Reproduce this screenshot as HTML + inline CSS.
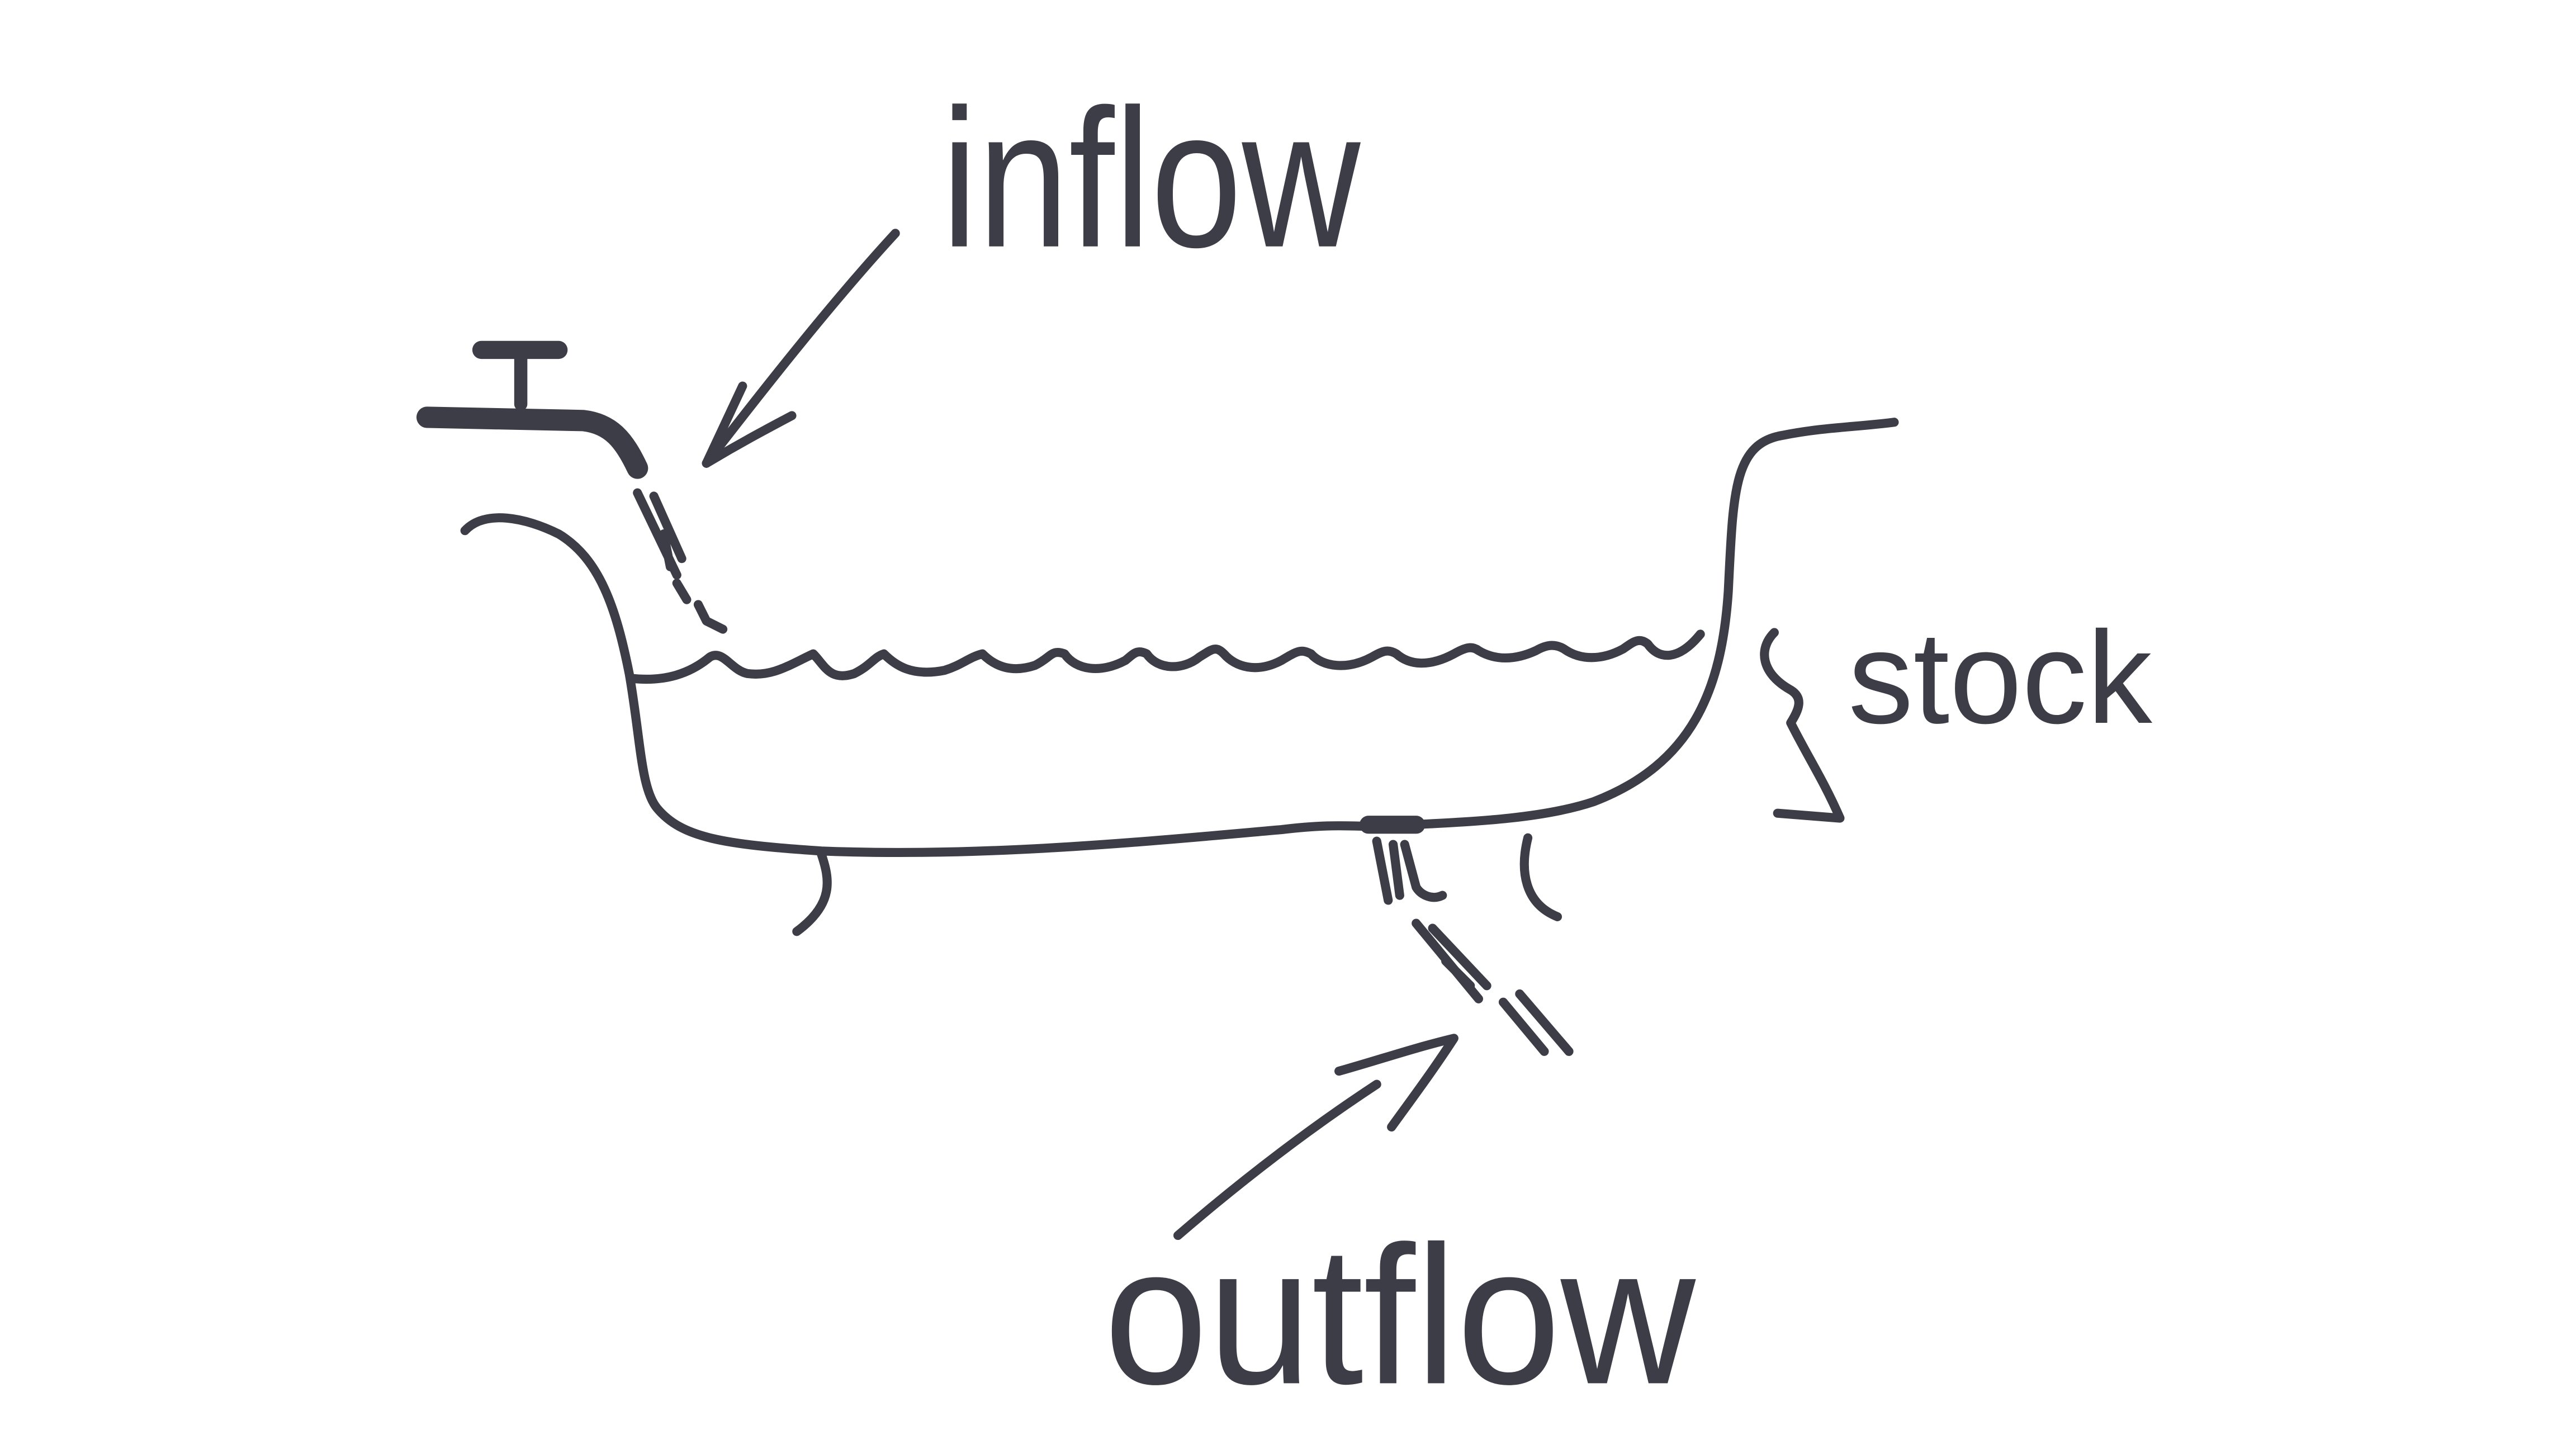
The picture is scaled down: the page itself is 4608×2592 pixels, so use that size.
<!DOCTYPE html>
<html><head><meta charset="utf-8"><style>
html,body{margin:0;padding:0;background:#fff;}
svg{display:block;}
</style></head><body>
<svg width="4608" height="2592" viewBox="0 0 1568 882" xmlns="http://www.w3.org/2000/svg">
<rect width="1568" height="882" fill="#fff"/>
<g fill="none" stroke="#3d3d48" stroke-width="5.5" stroke-linecap="round" stroke-linejoin="round">
<!-- tub -->
<path d="M283,323 C295,310 320,315 340,325 C365,340 375,370 383,410 C390,450 390,480 400,492 C415,510 440,514 500,518 C600,522 700,512 780,505 C820,500 830,505 860,502 C900,500 940,498 970,488 C1030,465 1048,420 1052,360 C1055,300 1055,270 1085,265 C1110,260 1130,260 1153,257"/>
<!-- water -->
<path d="M385,413 C405,415 420,410 432,400 C440,395 445,408 455,410 C470,412 480,405 495,398 C502,405 505,415 520,410 C530,405 532,400 538,398 C545,405 555,412 575,408 C585,405 590,400 598,398 C605,405 615,410 630,405 C640,400 640,395 648,398 C655,408 670,410 685,402 C690,398 692,395 698,398 C705,408 720,408 730,400 C738,395 740,393 745,398 C752,406 765,410 780,402 C790,396 792,395 798,398 C805,406 820,408 835,400 C842,396 845,395 850,398 C858,405 870,406 885,398 C892,394 896,393 900,396 C910,402 922,402 935,396 C942,392 947,392 952,395 C962,402 975,402 988,395 C995,390 998,388 1003,392 C1010,402 1022,402 1035,386"/>
<!-- faucet -->
<path d="M260,254 L355,256 C372,258 380,268 388,285" stroke-width="13"/>
<path d="M317,215 L317,246" stroke-width="8"/>
<path d="M293,213 L340,213" stroke-width="11"/>
<!-- inflow stream -->
<path d="M388,300 L412,350 M398,302 L415,340 M404,325 L408,345 M412,355 L418,365 M425,368 L430,378 L440,383"/>
<!-- inflow arrow -->
<path d="M545,142 C510,180 470,230 430,282"/>
<path d="M452,235 C445,250 438,265 430,282 C450,270 465,262 482,253"/>
<!-- legs -->
<path d="M500,520 C505,535 508,550 485,567"/>
<path d="M930,510 C925,530 928,550 948,558"/>
<!-- drain -->
<path d="M833,502 L862,502" stroke-width="11"/>
<path d="M838,512 L845,548 M848,514 L852,545 M855,514 L862,540 C865,545 872,548 878,545"/>
<!-- outflow stream -->
<path d="M862,562 L900,608 M872,565 L905,600 M915,610 L940,640 M925,605 L955,640 M880,585 L895,600"/>
<!-- outflow arrow -->
<path d="M717,752 C760,715 800,685 838,660"/>
<path d="M815,652 C840,645 860,638 885,632 C872,652 860,668 847,686"/>
<!-- brace -->
<path d="M1080,385 C1070,395 1072,410 1090,420 C1098,425 1095,432 1090,440 C1100,460 1110,475 1120,498 L1082,495"/>
</g>
<g fill="#3d3d48" font-family="Liberation Sans, sans-serif">
<text x="573" y="150" font-size="120" textLength="255" lengthAdjust="spacingAndGlyphs">inflow</text>
<text x="1125" y="440" font-size="80" textLength="185" lengthAdjust="spacingAndGlyphs">stock</text>
<text x="672" y="842" font-size="120" textLength="360" lengthAdjust="spacingAndGlyphs">outflow</text>
</g>
</svg>
</body></html>
